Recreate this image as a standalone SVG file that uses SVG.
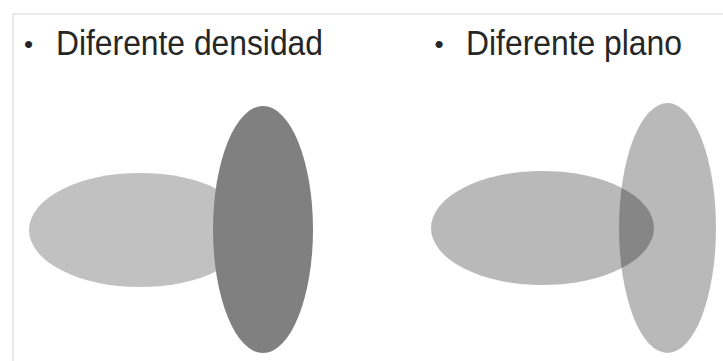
<svg xmlns="http://www.w3.org/2000/svg" width="723" height="361" viewBox="0 0 723 361">
<style>
.t{font-family:"Liberation Sans",Arial,sans-serif;font-size:35px;fill:#262626}
.b{font-family:"Liberation Sans",Arial,sans-serif;font-size:26px;fill:#262626}
.fr{fill:#000;fill-opacity:0.275}
</style>
<rect width="723" height="361" fill="#fff"/>
<rect x="13" y="14" width="730" height="380" fill="none" stroke="#e3e3e3" stroke-width="1.5"/>
<g id="densidad">
<text class="b" x="24" y="52.5">•</text>
<text class="t" x="56" y="55" textLength="267" lengthAdjust="spacingAndGlyphs">Diferente densidad</text>
<ellipse id="d-horizontal" cx="140" cy="230" rx="111" ry="57" fill="#c1c1c1"/>
<ellipse id="d-vertical" cx="263" cy="229.5" rx="50" ry="123.5" fill="#808080"/>
</g>
<g id="plano">
<text class="b" x="434.5" y="52.5">•</text>
<text class="t" x="466" y="55" textLength="216" lengthAdjust="spacingAndGlyphs">Diferente plano</text>
<ellipse id="p-horizontal" class="fr" cx="542.5" cy="228" rx="111.5" ry="57"/>
<ellipse id="p-vertical" class="fr" cx="667.5" cy="228" rx="48.5" ry="125"/>
</g>
<g id="connectors"/>
</svg>
